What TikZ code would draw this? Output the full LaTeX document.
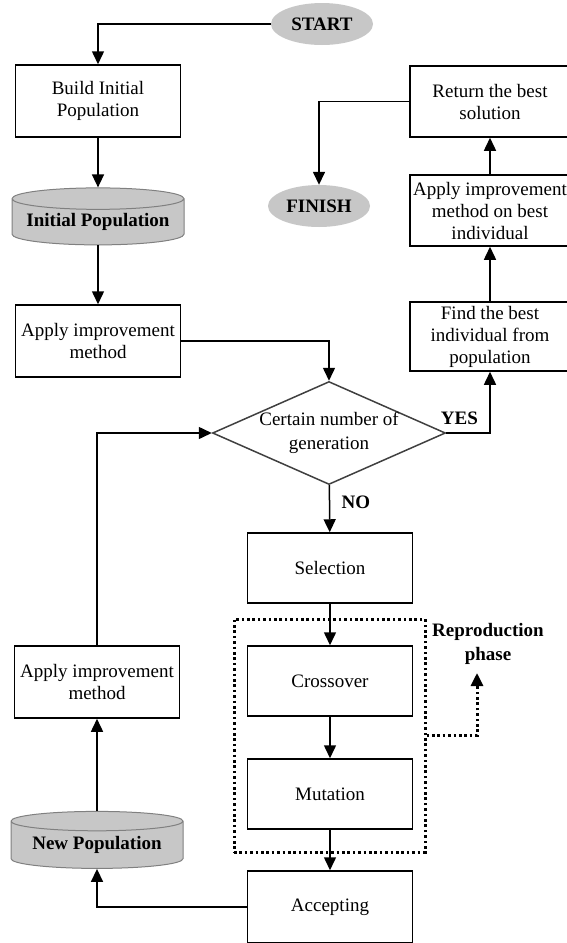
\documentclass[tikz,border=0pt]{standalone}
\usepackage{fontspec}
\setmainfont{Liberation Serif}
\usetikzlibrary{shapes.geometric,arrows.meta,positioning}

\begin{document}
\begin{tikzpicture}[x=1pt, y=-1pt, node distance={113pt}, font=\fontsize{19}{22}\selectfont,
main/.style = {draw, line width=1.5pt, minimum width=165pt, minimum height=72pt, inner sep=2pt, align=center},
term/.style = {ellipse, fill=black!22, minimum width=102pt, minimum height=42pt, inner sep=0pt, font=\fontsize{19}{22}\selectfont\bfseries},
store/.style = {cylinder, shape border rotate=90, draw=black!50, line width=1pt, fill=black!22, minimum width=172pt, minimum height=57pt, aspect=0.15, inner sep=0pt, font=\fontsize{19}{22}\selectfont\bfseries},
cond/.style = {diamond, draw=black!75, line width=1.5pt, aspect=2.26, minimum width=233pt, minimum height=103pt, inner sep=-4pt, align=center, font=\fontsize{19}{24}\selectfont},
arr/.style = {-{Triangle[width=12pt,length=13pt]}, line width=1.5pt},
grp/.style = {draw, line width=3pt, dash pattern=on 2.6pt off 2.8pt}] 
\useasboundingbox (0,0) rectangle (567,943);

\node[term] (1) at (322,24) {START}; 
\node[main] (2) at (98,101) {Build Initial\\Population}; 
\node[store] (3) at (98,222) {Initial Population}; 
\node[main] (4) at (98,341) {Apply improvement\\method}; 
\node[cond] (5) at (329,433) {Certain number of\\generation}; 
\node[main, minimum width=160pt, minimum height=69pt] (6) at (490,336.5) {Find the best\\individual from\\population}; 
\node[main, minimum width=160pt, minimum height=71pt] (7) at (490,210.5) {Apply improvement\\method on best\\individual}; 
\node[main, minimum width=160pt, minimum height=71pt] (8) at (490,101.5) {Return the best\\solution}; 
\node[term] (9) at (319,206) {FINISH}; 
\node[main, minimum height=70pt] (10) at (330,568) {Selection}; 
\node[main, minimum height=70pt] (11) [below of=10] {Crossover}; 
\node[main, minimum height=70pt] (12) [below of=11] {Mutation}; 
\node[main, minimum height=72pt] (13) [below of=12] {Accepting}; 
\node[store] (14) at (97,845) {New Population}; 
\node[main] (15) at (97,682) {Apply improvement\\method}; 
\node[grp, minimum width=191pt, minimum height=233pt] (16) at (329.5,735.5) {}; 
\node[font=\fontsize{19}{24}\selectfont\bfseries, align=center] (17) at (488,644) {Reproduction\\phase}; 
\coordinate (18) at (477,673);

\draw[arr] (1) -| (2); 
\draw[arr] (2) -- (3); 
\draw[arr] (3) -- (4); 
\draw[arr] (4) -| (5); 
\draw[arr] (5) -| node[pos=0.15, above, yshift=4pt, font=\fontsize{19}{22}\selectfont\bfseries] {YES} (6); 
\draw[arr] (6) -- (7); 
\draw[arr] (7) -- (8); 
\draw[arr] (8) -| (9); 
\draw[arr] (5) -- node[pos=0.37, right, xshift=8pt, font=\fontsize{19}{22}\selectfont\bfseries] {NO} (10); 
\draw[arr] (10) -- (11); 
\draw[arr] (11) -- (12); 
\draw[arr] (12) -- (13); 
\draw[arr] (13) -| (14); 
\draw[arr] (14) -- (15); 
\draw[arr] (15) |- (5); 
\draw[grp, -{Triangle[width=12pt,length=13pt]}] (16) -| (18); 
\end{tikzpicture}
\end{document}
